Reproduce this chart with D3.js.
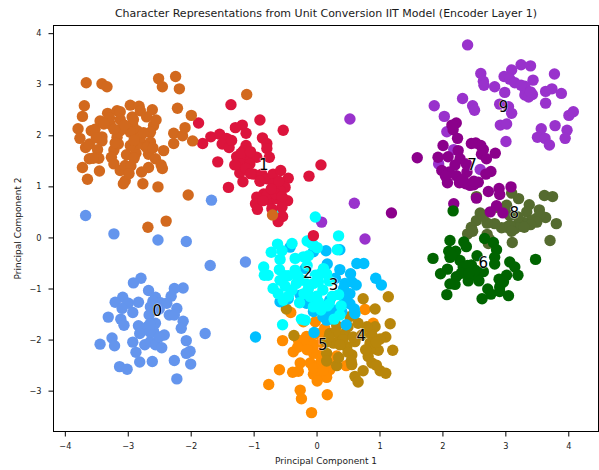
<!doctype html>
<html lang="en">
<head>
  <meta charset="utf-8">
  <script src="https://d3js.org/d3.v7.min.js"></script>
  <style>
    html, body { margin: 0; padding: 0; background: #fff; }
    svg { display: block; }
    text { font-family: "DejaVu Sans", sans-serif; fill: #1a1a1a; }
  </style>
</head>
<body>
  <script>
    // values, one list of [pc1, pc2] per character
    var points0 = [[-3.67,0.43],[-3.22,0.07],[-2.52,-0.05],[-2.07,-0.08],[-1.69,-0.55],[-1.67,0.73],[-1.13,-0.48],[-2.79,-0.80],[-2.91,-0.89],[-2.67,-1.04],[-2.12,-0.99],[-2.26,-1.00],[-2.31,-1.15],[-2.56,-1.17],[-2.48,-1.28],[-2.38,-1.29],[-3.08,-1.17],[-3.20,-1.27],[-2.99,-1.29],[-2.83,-1.27],[-3.09,-1.39],[-2.92,-1.47],[-3.31,-1.56],[-3.11,-1.60],[-3.06,-1.72],[-2.22,-1.39],[-2.34,-1.52],[-2.26,-1.52],[-2.64,-1.36],[-2.66,-1.52],[-2.12,-1.64],[-2.15,-1.78],[-2.56,-1.68],[-2.83,-1.73],[-2.70,-1.76],[-2.81,-1.88],[-2.59,-1.84],[-2.42,-1.91],[-1.77,-1.88],[-2.07,-2.02],[-3.25,-1.97],[-3.44,-2.09],[-3.21,-2.12],[-2.92,-2.05],[-2.73,-2.10],[-2.64,-2.04],[-2.56,-2.10],[-2.46,-2.16],[-2.87,-2.25],[-2.01,-2.23],[-2.07,-2.27],[-2.81,-2.44],[-2.61,-2.43],[-2.26,-2.41],[-2.00,-2.48],[-3.13,-2.53],[-3.01,-2.58],[-2.22,-2.77],[-2.60,-1.25],[-2.50,-1.40],[-2.65,-1.85],[-2.50,-1.95],[-2.65,-1.70]];
    var points1 = [[-1.875,2.24],[-1.36,2.60],[-0.90,2.30],[-0.53,2.10],[-1.18,2.20],[-1.29,2.15],[-1.12,2.04],[-0.86,1.95],[-0.79,1.84],[-0.79,1.74],[-1.68,1.97],[-1.81,1.84],[-1.54,2.02],[-1.43,1.94],[-1.50,1.83],[-1.39,1.76],[-1.12,1.80],[-1.16,1.70],[-1.27,1.58],[-1.11,1.57],[-0.95,1.57],[-0.75,1.57],[-1.57,1.48],[-1.21,1.44],[-1.06,1.44],[-1.22,1.26],[-1.17,1.09],[-1.40,0.98],[-1.00,1.24],[-0.87,1.24],[-0.79,1.15],[-0.69,1.24],[-0.57,1.31],[-0.45,1.16],[-0.50,0.98],[-0.69,1.05],[-0.58,0.92],[-0.46,0.72],[-0.84,0.85],[-0.95,0.79],[-0.97,0.66],[-0.94,0.55],[-0.74,0.72],[-0.63,0.76],[-0.55,0.59],[-0.71,0.56],[-0.54,0.41],[-0.61,0.31],[-0.12,1.20],[0.07,1.42],[-0.05,0.035],[-1.20,1.65],[-1.05,1.68],[-1.30,1.42],[-1.12,1.35],[-1.05,1.25],[-0.90,1.10],[-0.60,1.10],[-0.78,0.85],[-0.65,0.85],[-0.85,0.72],[-0.55,0.80],[-0.72,0.95],[-1.35,1.90]];
    var points2 = [[-0.62,0.48],[-0.02,0.40],[0.35,0.03],[-0.62,-0.13],[-0.39,-0.12],[-0.72,-0.29],[-0.55,-0.26],[-0.58,-0.43],[-0.15,-0.07],[-0.08,-0.12],[0.01,-0.20],[0.33,-0.24],[-0.34,-0.41],[-0.21,-0.38],[-0.13,-0.36],[-0.84,-0.58],[-0.59,-0.63],[-0.83,-0.74],[-0.77,-0.74],[-0.34,-0.64],[0.11,-0.61],[0.16,-0.71],[-0.58,-0.84],[-0.69,-1.00],[-0.61,-1.10],[-0.53,-1.23],[-0.39,-1.03],[-0.32,-0.90],[-0.13,-1.00],[-0.10,-1.16],[0.03,-0.87],[0.10,-1.03],[-0.27,-1.28],[0.03,-1.26],[0.17,-1.34],[-0.05,-1.36],[0.07,-1.42],[0.35,-1.12],[0.39,-1.34],[-0.24,-1.60],[-0.18,-1.62],[-0.54,-1.71],[0.37,-1.52],[0.28,-1.60],[-0.21,-0.84],[-0.02,-0.74],[-0.45,-0.75],[-0.30,-0.75],[-0.15,-0.55],[0.05,-0.72],[-0.05,-0.90],[-0.20,-1.10],[-0.45,-1.15],[-0.50,-0.95],[0.20,-0.85],[0.00,-1.15],[-0.50,-0.75],[0.25,-1.15],[0.20,-1.30],[-0.05,-0.15]];
    var points3 = [[-0.42,-0.19],[0.15,-0.26],[0.37,-0.24],[-0.05,-0.28],[0.17,-0.52],[0.37,-0.63],[0.64,-0.51],[0.75,-0.51],[0.54,-0.71],[0.94,-0.80],[1.03,-0.93],[0.45,-0.90],[0.56,-0.87],[0.63,-0.93],[0.43,-1.00],[0.53,-1.10],[0.45,-1.15],[0.53,-1.30],[0.61,-1.49],[0.47,-1.71],[0.16,-1.62],[0.21,-1.49],[-0.04,-1.86],[-0.97,-1.95],[-0.58,-1.26],[-0.26,-1.13],[-0.18,-0.61],[-0.16,-1.29],[-0.10,-1.23],[0.32,-1.42],[0.21,-1.23],[0.30,-0.80],[0.45,-1.25],[0.10,-1.55],[0.20,-1.60],[-0.45,-1.20],[-0.05,-1.45],[0.60,-1.40],[0.30,-1.55],[0.40,-1.45]];
    var points4 = [[0.74,-1.20],[1.14,-1.16],[0.93,-1.40],[-0.48,-1.40],[1.17,-1.69],[0.93,-1.75],[1.21,-2.21],[1.10,-1.95],[1.01,-1.99],[0.88,-1.91],[-0.36,-1.92],[0.53,-1.55],[0.32,-1.73],[0.21,-1.88],[0.45,-1.88],[0.66,-1.68],[0.72,-1.91],[0.48,-2.14],[0.27,-2.07],[0.16,-2.27],[0.16,-2.42],[0.32,-2.51],[0.56,-2.30],[0.56,-2.49],[0.74,-2.61],[0.61,-2.72],[0.66,-2.83],[1.01,-2.61],[1.10,-2.66],[0.98,-2.21],[0.85,-2.20],[0.82,-2.33],[0.88,-2.46],[0.85,-2.07],[0.61,-2.04],[0.37,-1.94],[0.30,-1.85],[0.42,-2.00],[0.50,-1.75],[0.58,-1.95],[0.50,-2.25],[0.37,-2.10],[0.95,-2.05],[0.78,-2.20],[0.35,-2.35],[0.15,-2.05],[0.20,-1.95],[0.80,-1.75],[0.55,-2.42],[0.95,-2.50]];
    var points5 = [[0.77,-1.41],[-0.41,-1.47],[0.90,-1.68],[-0.02,-1.65],[0.13,-1.78],[-0.16,-1.94],[-0.29,-2.01],[-0.54,-2.02],[-0.37,-2.24],[-0.08,-2.07],[-0.05,-2.27],[0.32,-2.32],[-0.26,-2.46],[-0.10,-2.46],[0.06,-2.46],[-0.59,-2.59],[-0.38,-2.64],[-0.29,-2.62],[-0.05,-2.68],[0.03,-2.69],[0.21,-2.59],[0.16,-2.74],[0.01,-2.81],[0.47,-2.51],[-0.76,-2.88],[-0.26,-2.99],[-0.24,-3.16],[0.17,-3.08],[-0.08,-3.43],[-0.21,-1.65],[0.00,-1.88],[0.11,-1.88],[-0.20,-2.05],[-0.15,-2.20],[0.05,-2.30],[-0.05,-2.55],[0.10,-2.60],[0.02,-2.10],[-0.30,-2.15],[0.20,-2.45]];
    var points6 = [[2.17,0.52],[2.12,-0.06],[2.34,-0.09],[2.38,-0.18],[2.67,-0.02],[2.81,-0.10],[2.86,-0.24],[2.10,-0.27],[2.21,-0.27],[2.12,-0.39],[1.85,-0.41],[2.28,-0.45],[2.55,-0.36],[2.83,-0.39],[2.83,-0.52],[2.33,-0.58],[2.46,-0.54],[2.65,-0.67],[2.08,-0.62],[1.97,-0.71],[2.22,-0.77],[2.41,-0.85],[2.52,-0.74],[2.58,-0.85],[2.20,-0.92],[2.12,-0.91],[2.07,-1.12],[2.63,-1.20],[2.72,-1.01],[2.77,-1.11],[2.91,-0.97],[3.05,-1.14],[3.02,-0.74],[2.97,-0.87],[3.07,-0.48],[3.15,-0.58],[3.20,-0.74],[3.48,-0.43],[2.91,-1.06],[2.52,-0.64],[2.40,-0.55],[2.30,-0.70],[2.42,-0.70],[2.15,-0.35],[2.90,-0.82]];
    var points7 = [[2.22,2.24],[2.17,2.11],[2.24,1.94],[2.01,1.80],[2.09,1.58],[1.93,1.57],[1.60,1.56],[2.25,1.70],[2.28,1.54],[2.46,1.84],[2.53,1.85],[2.61,1.80],[2.62,1.63],[2.70,1.54],[2.84,1.65],[2.38,1.44],[2.39,1.28],[1.99,1.31],[2.11,1.28],[2.22,1.21],[2.08,1.07],[2.27,1.07],[2.44,1.02],[2.57,1.08],[2.77,1.29],[2.69,1.24],[2.73,0.90],[2.90,0.96],[2.91,0.84],[3.09,0.99],[2.54,0.77],[2.18,0.66],[1.19,0.48],[2.86,0.62],[2.76,0.50],[2.96,0.48],[2.37,1.05],[2.50,1.03],[2.20,1.42],[2.05,1.20],[2.33,1.14],[2.50,1.10],[2.65,1.72],[2.15,2.20]];
    var points8 = [[2.54,0.80],[3.10,0.87],[3.21,0.76],[3.62,0.82],[3.75,0.80],[3.38,0.64],[3.54,0.54],[3.34,0.50],[3.81,0.27],[3.64,0.39],[3.41,0.33],[3.28,0.30],[3.15,0.17],[3.18,0.24],[3.02,0.20],[2.94,0.19],[2.83,0.27],[2.71,0.28],[2.60,0.48],[2.54,0.33],[2.46,0.20],[2.40,0.07],[2.71,0.06],[2.73,-0.12],[3.11,-0.10],[3.71,-0.06],[3.02,0.63],[2.86,0.59],[3.07,0.43],[3.49,0.37],[3.07,0.24],[3.25,0.22],[3.20,0.40],[3.55,0.45],[3.50,0.30],[3.10,0.12],[2.65,0.42],[3.40,0.25],[2.48,0.12],[2.75,-0.04],[3.30,0.20]];
    var points9 = [[2.40,3.77],[3.25,3.38],[3.40,3.36],[3.10,3.28],[2.98,3.15],[3.78,3.20],[2.61,3.21],[2.65,3.06],[2.66,2.98],[2.83,2.95],[3.07,3.10],[3.15,3.03],[3.44,3.08],[3.31,2.96],[3.32,2.87],[3.43,2.80],[3.31,2.79],[3.37,2.75],[2.99,2.84],[3.64,2.86],[3.74,2.91],[3.89,2.82],[3.64,2.63],[2.32,2.72],[1.87,2.58],[2.03,2.37],[2.48,2.58],[2.51,2.49],[2.91,2.61],[3.05,2.56],[3.10,2.43],[2.92,2.20],[3.02,2.22],[3.01,1.88],[4.01,2.39],[4.08,2.46],[3.79,2.19],[3.57,2.13],[3.51,1.96],[3.63,1.94],[3.70,1.81],[3.98,2.10],[3.95,1.94],[2.07,2.07],[2.18,1.72],[1.94,1.44],[2.60,1.33],[0.53,2.32],[0.08,0.30],[0.60,0.67],[0.77,-0.03],[3.25,2.98],[3.40,2.85]];
    var points10 = [[-3.66,3.03],[-3.41,3.01],[-3.33,2.95],[-2.51,3.11],[-2.24,3.15],[-2.45,2.95],[-2.18,2.91],[-3.69,2.58],[-3.72,2.37],[-2.96,2.59],[-2.82,2.57],[-2.61,2.50],[-2.21,2.53],[-1.99,2.39],[-3.79,2.13],[-3.76,1.94],[-3.67,1.76],[-3.61,1.83],[-3.58,2.09],[-3.52,2.12],[-3.44,2.28],[-3.32,2.43],[-3.17,2.48],[-3.12,2.46],[-3.29,2.34],[-3.28,2.22],[-3.12,2.31],[-2.93,2.36],[-2.92,2.19],[-2.80,2.48],[-2.70,2.36],[-2.59,2.19],[-2.64,2.06],[-2.85,2.09],[-2.96,2.06],[-3.12,2.09],[-3.17,1.96],[-3.41,1.97],[-3.41,1.89],[-3.48,1.72],[-3.61,1.54],[-3.46,1.55],[-3.22,1.71],[-3.26,1.57],[-3.22,1.44],[-3.72,1.37],[-3.45,1.30],[-3.64,1.14],[-3.12,1.31],[-3.04,1.41],[-3.02,1.62],[-2.87,1.65],[-2.67,1.63],[-2.64,1.87],[-2.73,1.80],[-2.85,1.83],[-2.56,1.54],[-2.47,1.42],[-2.45,1.35],[-2.67,1.37],[-2.78,1.28],[-2.76,1.05],[-3.04,1.11],[-3.07,1.05],[-2.52,0.99],[-2.43,1.70],[-2.27,1.84],[-2.27,2.04],[-2.13,1.99],[-2.09,2.15],[-1.97,1.89],[-2.04,0.83],[-2.39,0.32],[-2.68,0.20],[-0.70,0.44],[-1.11,2.80],[-3.15,1.83],[-3.09,2.15],[-2.96,1.80],[-2.80,1.96],[-2.70,1.76],[-2.91,2.31],[-3.38,2.22],[-3.22,2.12],[-3.05,2.20],[-2.90,1.90],[-2.75,2.05],[-2.55,2.30],[-3.50,1.95],[-3.20,1.85],[-2.90,1.55],[-2.95,1.40],[-2.60,1.75],[-3.55,1.55],[-2.98,1.25]];

    var labelText = ["0", "1", "2", "3", "4", "5", "6", "7", "8", "9"];
    var labelX = [-2.53, -0.84, -0.14, 0.27, 0.71, 0.10, 2.65, 2.47, 3.14, 2.97];
    var labelY = [-1.44, 1.41, -0.70, -0.93, -1.93, -2.10, -0.51, 1.41, 0.47, 2.55];
    var xTicks = [-4, -3, -2, -1, 0, 1, 2, 3, 4];
    var yTicks = [-3, -2, -1, 0, 1, 2, 3, 4];
    var xLimits = [-4.18, 4.48];
    var yLimits = [-3.80, 4.15];

    var colors = ["cornflowerblue", "crimson", "cyan", "deepskyblue", "darkgoldenrod", "darkorange", "darkgreen", "darkmagenta", "darkolivegreen", "darkorchid", "chocolate"];
    var groups = [points0, points1, points2, points3, points4, points5, points6, points7, points8, points9, points10];

    // the low numbers lie on top of the high ones, chocolate over all of them
    var drawOrder = [9, 8, 7, 6, 5, 4, 3, 2, 1, 0, 10];

    var w = 599, h = 470;
    var plotLeft = 53.5, plotRight = 598.5, plotTop = 25.5, plotBottom = 431.5;

    var x = d3.scaleLinear().domain(xLimits).range([plotLeft, plotRight]);
    var y = d3.scaleLinear().domain(yLimits).range([plotBottom, plotTop]);

    var svg = d3.select("body").append("svg")
      .attr("width", w)
      .attr("height", h);

    drawOrder.forEach(function(g){
      svg.append("g").selectAll("circle")
        .data(groups[g])
        .enter().append("circle")
        .attr("cx", function(d){ return x(d[0]); })
        .attr("cy", function(d){ return y(d[1]); })
        .attr("r", 5.7)
        .style("fill", colors[g]);
    });

    svg.append("g").selectAll("text")
      .data(labelText)
      .enter().append("text")
      .attr("x", function(d, i){ return x(labelX[i]); })
      .attr("y", function(d, i){ return y(labelY[i]); })
      .attr("text-anchor", "middle")
      .attr("dominant-baseline", "central")
      .style("font-size", "15px")
      .style("fill", "#000")
      .style("stroke", "#fff")
      .style("stroke-width", 1)
      .style("stroke-opacity", 0.7)
      .style("paint-order", "stroke")
      .text(function(d){ return d; });

    function tickText(d) {
      return d3.format("d")(d).replace("-", "\u2212");
    }

    var xAxis = d3.axisBottom(x).tickValues(xTicks).tickSize(5).tickPadding(7).tickFormat(tickText);
    var yAxis = d3.axisLeft(y).tickValues(yTicks).tickSize(5).tickPadding(7).tickFormat(tickText);

    svg.append("g").attr("transform", "translate(0," + plotBottom + ")").call(xAxis);
    svg.append("g").attr("transform", "translate(" + plotLeft + ",0)").call(yAxis);
    svg.selectAll(".domain").remove();
    svg.selectAll(".tick line").style("stroke", "#000").style("stroke-width", 1);
    svg.selectAll(".tick text").style("font-size", "8.2px").style("font-family", '"DejaVu Sans", sans-serif').style("fill", "#1a1a1a");

    svg.append("rect")
      .attr("x", plotLeft)
      .attr("y", plotTop)
      .attr("width", plotRight - plotLeft)
      .attr("height", plotBottom - plotTop)
      .style("fill", "none")
      .style("stroke", "#000")
      .style("stroke-width", 1);

    svg.append("text")
      .attr("x", (plotLeft + plotRight) / 2)
      .attr("y", 16.5)
      .attr("text-anchor", "middle")
      .style("font-size", "11px")
      .text("Character Representations from Unit Conversion IIT Model (Encoder Layer 1)");

    svg.append("text")
      .attr("x", (plotLeft + plotRight) / 2)
      .attr("y", 464)
      .attr("text-anchor", "middle")
      .style("font-size", "9px")
      .text("Principal Component 1");

    svg.append("text")
      .attr("transform", "translate(21," + (plotTop + plotBottom) / 2 + ") rotate(-90)")
      .attr("text-anchor", "middle")
      .style("font-size", "9px")
      .text("Principal Component 2");
  </script>
</body>
</html>
